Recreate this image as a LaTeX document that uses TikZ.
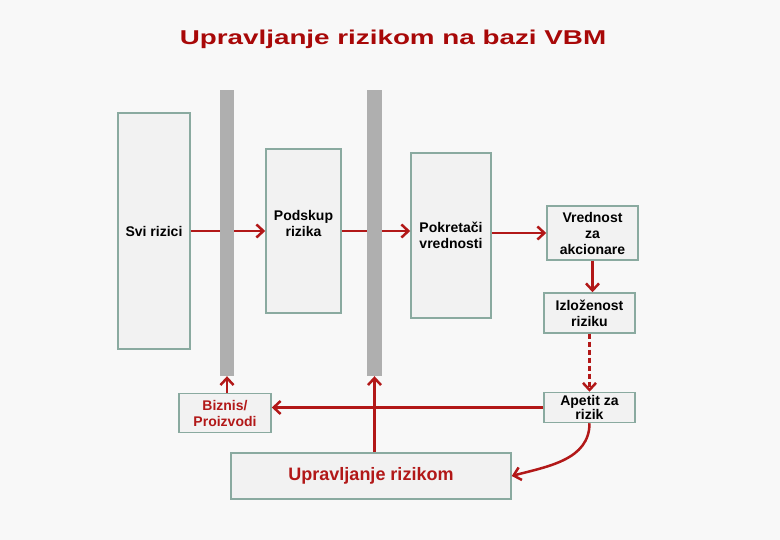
\documentclass[tikz,border=0pt]{standalone}
\usepackage{fontspec}
\setmainfont{Liberation Sans}
\newfontfamily\titlefont[FakeStretch=1.39]{Liberation Sans}
\usepackage{xcolor}
\usepackage{tikz}
\usetikzlibrary{positioning,arrows.meta}

\definecolor{vbmred}{RGB}{178,24,24}
\definecolor{titlered}{RGB}{168,8,8}
\definecolor{boxline}{RGB}{138,170,160}
\definecolor{boxfill}{RGB}{242,242,242}
\definecolor{bgcol}{RGB}{248,248,248}
\definecolor{barcol}{RGB}{175,175,175}

\begin{document}
\begin{tikzpicture}[x=1pt, y=-1pt,
	box/.style={draw=boxline, fill=boxfill, line width=1.5pt, inner sep=0pt, align=center, font=\fontsize{14}{16}\selectfont\bfseries},
	bar/.style={fill=barcol, draw=none, inner sep=0pt, minimum height=286pt},
	link/.style={draw=vbmred, line width=2.5pt, -{Straight Barb[length=7pt, width=13pt, line width=2.5pt]}}]
	\useasboundingbox[fill=bgcol] (0,0) rectangle (780,540);
	\node[font=\titlefont\fontsize{20}{24}\selectfont\bfseries, text=titlered] (title) at (393,39) {Upravljanje rizikom na bazi VBM};
	% risk funnel
	\node[box, minimum width=72pt, minimum height=236pt] (svi) at (154,231) {Svi rizici};
	\node[box, minimum width=75pt, minimum height=164pt] (podskup) at (303.5,231) {Podskup\\rizika\\\mbox{}};
	\node[box, minimum width=80pt, minimum height=165pt] (pokretaci) at (451,235.5) {Pokretači\\vrednosti};
	\node[box, minimum width=91pt, minimum height=54pt] (vrednost) at (592.5,233) {Vrednost\\za\\akcionare};
	\node[box, minimum width=91pt, minimum height=40pt] (izlozenost) at (589.5,313) {Izloženost\\riziku};
	\node[box, minimum width=91pt, minimum height=30pt, font=\fontsize{14}{14}\selectfont\bfseries] (apetit) at (589.5,407.5) {Apetit za\\rizik};
	\node[box, minimum width=92pt, minimum height=39pt, text=vbmred] (biznis) at (225,413) {Biznis/\\Proizvodi};
	\node[box, minimum width=280pt, minimum height=46pt, text=vbmred, font=\fontsize{18}{20}\selectfont\bfseries] (upravljanje) at (371,476) {Upravljanje rizikom};
	\draw[link] (svi) -- (podskup);
	\draw[link] (podskup.east) -- (podskup.east -| pokretaci.west);
	% filters
	\node[bar, minimum width=14pt] (filter1) at (227,233) {};
	\node[bar, minimum width=15pt] (filter2) at (374.5,233) {};
	\draw[link] (vrednost.west -| pokretaci.east) -- (vrednost.west);
	\draw[link] (vrednost.south) -- (vrednost.south |- izlozenost.north);
	\draw[link, dash pattern=on 5pt off 3pt] (izlozenost.south) -- (apetit.north);
	\draw[link] (apetit.west) -- (biznis.east |- apetit.west);
	\draw[link] (biznis.north -| filter1.south) -- (filter1.south);
	\draw[link] (upravljanje.north -| filter2.south) -- (filter2.south);
	\draw[link] (apetit.south) to[out=-90, in=15] (upravljanje.east);
\end{tikzpicture}
\end{document}
